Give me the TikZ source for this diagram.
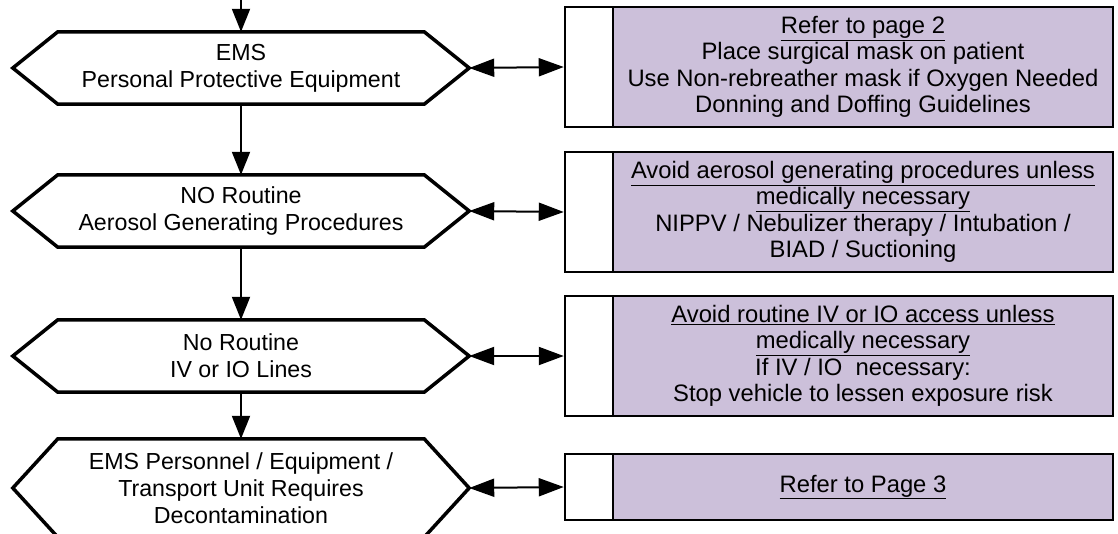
\documentclass[tikz,border=0pt]{standalone}
\usepackage{fontspec}
\setmainfont{Liberation Sans}
\usetikzlibrary{arrows.meta,calc}
\definecolor{lav}{RGB}{204,192,218}
\tikzset{
  hexnode/.style={font=\fontsize{23.2}{27}\selectfont, minimum width=366pt, minimum height=72pt, inner sep=0pt, align=center},
  hexline/.style={line width=3.5pt, line join=miter},
  sidebox/.style={draw, line width=2.5pt, minimum width=48pt, inner sep=0pt, fill=white},
  infobox/.style={font=\fontsize{23.8}{26.5}\selectfont, draw, line width=2.5pt, fill=lav, minimum width=500pt, inner sep=0pt, align=center},
  flow/.style={line width=2pt, -{Triangle[length=23pt,width=18pt]}},
  twoway/.style={line width=2pt, {Triangle[length=25pt,width=18pt]}-{Triangle[length=25pt,width=18pt]}},
}
\newcommand\drawhex[1]{%
  \draw[hexline] (#1.north west) -- (#1.north east) -- ($(#1.east)+(45,0)$) -- (#1.south east) -- (#1.south west) -- ($(#1.west)+(-45,0)$) -- cycle;
  \coordinate (#1r) at ($(#1.east)+(45,0)$);}
\begin{document}
\begin{tikzpicture}[x=1pt,y=-1pt]
\useasboundingbox (0,0) rectangle (1118,533);
\clip (0,0) rectangle (1118,533);
% hexagons
\node[hexnode] (h1) at (241,68) {EMS\\Personal Protective Equipment};
\node[hexnode] (h2) at (241,211) {NO Routine\\Aerosol Generating Procedures};
\node[hexnode] (h3) at (241,356) {No Routine\\IV or IO Lines};
\node[hexnode, minimum height=98pt] (h4) at (241,488) {EMS Personnel / Equipment /\\Transport Unit Requires\\Decontamination};
\drawhex{h1}
\drawhex{h2}
\drawhex{h3}
\drawhex{h4}
% side boxes
\node[sidebox, minimum height=120pt] (w1) at (589,67) {};
\node[infobox, minimum height=120pt] (p1) at (863,67) {\underline{Refer to page 2}\\Place surgical mask on patient\\Use Non-rebreather mask if Oxygen Needed\\Donning and Doffing Guidelines};
\node[sidebox, minimum height=120pt] (w2) at (589,212) {};
\node[infobox, minimum height=120pt] (p2) at (863,212) {\underline{Avoid aerosol generating procedures unless}\\\underline{medically necessary}\\NIPPV / Nebulizer therapy / Intubation /\\BIAD / Suctioning};
\node[sidebox, minimum height=120pt] (w3) at (589,356) {};
\node[infobox, minimum height=120pt] (p3) at (863,356) {\underline{Avoid routine IV or IO access unless}\\\underline{medically necessary}\\If IV / IO\ \ necessary:\\Stop vehicle to lessen exposure risk};
\node[sidebox, minimum height=66pt] (w4) at (589,487) {};
\node[infobox, minimum height=66pt] (p4) at (863,487) {\underline{Refer to Page 3}};
% connectors
\coordinate (start) at (241,-5);
\draw[flow] (start) -- (h1.north);
\draw[flow] (h1.south) -- (h2.north);
\draw[flow] (h2.south) -- (h3.north);
\draw[flow] (h3.south) -- (h4.north);
\draw[twoway] (h1r) -- (w1.west);
\draw[twoway] (h2r) -- (w2.west);
\draw[twoway] (h3r) -- (w3.west);
\draw[twoway] (h4r) -- (w4.west);
\end{tikzpicture}
\end{document}
